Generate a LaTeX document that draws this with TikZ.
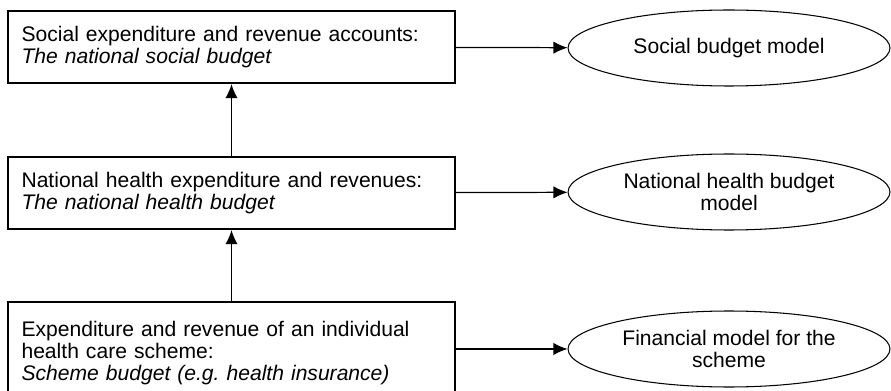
\documentclass[tikz,border=0pt]{standalone}
\usepackage{fontspec}
\setmainfont{Liberation Sans}
\usetikzlibrary{shapes,arrows,arrows.meta,positioning}

\begin{document}
\begin{tikzpicture}[
    x=0.02cm, y=-0.02cm,
    account/.style={rectangle, draw, line width=1.3pt, minimum width=8.94cm, inner xsep=0.27cm,
        text width=8.4cm, align=left, font=\fontsize{12}{12.6}\selectfont},
    model/.style={ellipse, draw, line width=0.6pt, minimum width=6.44cm, minimum height=1.52cm,
        inner sep=0pt, align=center, font=\fontsize{12}{12.6}\selectfont},
    flow/.style={-{Latex[length=8pt,width=7pt]}, line width=0.7pt}
]
\useasboundingbox (0,0) rectangle (891,391);

% LIVELLO NAZIONALE SOCIALE
\node[account, minimum height=1.44cm] (social) at (231.5,47)
    {Social expenditure and revenue accounts:\\ \textit{The national social budget}};
\node[model] (socmodel) at (729,48) {Social budget model};

% LIVELLO NAZIONALE SANITARIO
\node[account, minimum height=1.44cm] (health) at (231.5,193)
    {National health expenditure and revenues:\\ \textit{The national health budget}};
\node[model] (healthmodel) at (729,192) {National health budget\\ model};

% SINGOLO SCHEMA
\node[account, minimum height=2.04cm] (scheme) at (231.5,353)
    {Expenditure and revenue of an individual\\ health care scheme:\\
     \textit{Scheme budget (e.g.\ health insurance)}};
\node[model] (schememodel) at (729,349) {Financial model for the\\ scheme};

% FRECCE
\draw[flow] (health.north) -- (social.south);
\draw[flow] (scheme.north) -- (health.south);
\foreach \a/\b in {social/socmodel, health/healthmodel} {
    \draw[flow] (\a) -- (\b);
}
\draw[flow] (scheme.east |- schememodel.west) -- (schememodel.west);

\end{tikzpicture}
\end{document}
